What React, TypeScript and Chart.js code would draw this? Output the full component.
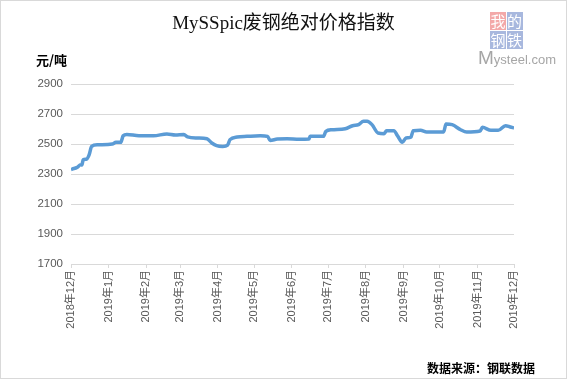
import React, { useEffect, useRef } from "react";
import { Chart, registerables } from "chart.js";

Chart.register(...registerables);

const dates = [
  "2018-12-01", "2018-12-02", "2018-12-06", "2018-12-09", "2018-12-10", "2018-12-11",
  "2018-12-14", "2018-12-16", "2018-12-18", "2018-12-23", "2019-01-04", "2019-01-07",
  "2019-01-11", "2019-01-13", "2019-01-16", "2019-01-26", "2019-02-07", "2019-02-18",
  "2019-02-25", "2019-03-04", "2019-03-07", "2019-03-15", "2019-03-23", "2019-03-27",
  "2019-03-31", "2019-04-05", "2019-04-09", "2019-04-11", "2019-04-17", "2019-04-25",
  "2019-05-06", "2019-05-12", "2019-05-14", "2019-05-20", "2019-05-28", "2019-06-07",
  "2019-06-15", "2019-06-16", "2019-06-27", "2019-06-29", "2019-07-04", "2019-07-15",
  "2019-07-21", "2019-07-26", "2019-07-30", "2019-08-02", "2019-08-06", "2019-08-11",
  "2019-08-16", "2019-08-18", "2019-08-24", "2019-08-27", "2019-08-31", "2019-09-03",
  "2019-09-07", "2019-09-09", "2019-09-15", "2019-09-20", "2019-10-04", "2019-10-06",
  "2019-10-11", "2019-10-18", "2019-10-23", "2019-11-03", "2019-11-05", "2019-11-12",
  "2019-11-18", "2019-11-24", "2019-11-28", "2019-12-01",
];

const values = [
  2330, 2333, 2344, 2362, 2360, 2395,
  2400, 2429, 2484, 2495, 2500, 2511,
  2511, 2555, 2564, 2555, 2555, 2567,
  2560, 2564, 2547, 2540, 2535, 2507,
  2489, 2484, 2493, 2529, 2547, 2551,
  2555, 2551, 2524, 2533, 2535, 2531,
  2533, 2551, 2551, 2584, 2595, 2602,
  2622, 2629, 2651, 2651, 2629, 2573,
  2569, 2589, 2589, 2555, 2511, 2540,
  2545, 2589, 2591, 2580, 2580, 2633,
  2629, 2595, 2580, 2587, 2611, 2591,
  2591, 2622, 2613, 2607,
];

const monthTickDates = [
  "2018-12-01", "2019-01-01", "2019-02-01", "2019-03-01", "2019-04-01", "2019-05-01",
  "2019-06-01", "2019-07-01", "2019-08-01", "2019-09-01", "2019-10-01", "2019-11-01",
  "2019-12-01",
];

const monthTickLabels = [
  "2018年12月", "2019年1月", "2019年2月", "2019年3月", "2019年4月", "2019年5月",
  "2019年6月", "2019年7月", "2019年8月", "2019年9月", "2019年10月", "2019年11月",
  "2019年12月",
];

const yMin = 1700;
const yMax = 2900;
const yStep = 200;

const ORIGIN = Date.UTC(2018, 11, 1);
function dayIndex(s: string): number {
  const [y, m, d] = s.split("-").map(Number);
  return (Date.UTC(y, m - 1, d) - ORIGIN) / 86400000;
}

const tickDays = monthTickDates.map(dayIndex);

export default function App() {
  const canvasRef = useRef<HTMLCanvasElement | null>(null);

  useEffect(() => {
    if (!canvasRef.current) return;
    const points = dates.map((d, i) => ({ x: dayIndex(d), y: values[i] }));
    const chart = new Chart(canvasRef.current, {
      type: "line",
      data: {
        datasets: [
          {
            data: points,
            borderColor: "#5B9BD5",
            borderWidth: 3.5,
            pointRadius: 0,
            fill: false,
            cubicInterpolationMode: "monotone",
          },
        ],
      },
      options: {
        responsive: false,
        animation: false,
        layout: { padding: { top: 84, right: 53, left: 0, bottom: 0 } },
        plugins: {
          legend: { display: false },
          tooltip: { enabled: false },
          title: { display: false },
        },
        scales: {
          x: {
            type: "linear",
            min: tickDays[0],
            max: tickDays[tickDays.length - 1],
            afterBuildTicks: (scale: any) => {
              scale.ticks = tickDays.map((v) => ({ value: v }));
            },
            afterFit: (scale: any) => {
              scale.height = 115;
            },
            ticks: {
              autoSkip: false,
              minRotation: 90,
              maxRotation: 90,
              padding: 2,
              color: "#595959",
              font: { size: 11, family: "'Liberation Sans', 'Noto Sans CJK SC', sans-serif" },
              callback: (v: any) => {
                const idx = tickDays.indexOf(Number(v));
                return idx >= 0 ? monthTickLabels[idx] : "";
              },
            },
            grid: {
              display: true,
              drawOnChartArea: false,
              drawTicks: true,
              tickLength: 4,
              color: "#d9d9d9",
            },
            border: { display: true, color: "#d9d9d9" },
          },
          y: {
            min: yMin,
            max: yMax,
            afterFit: (scale: any) => {
              scale.width = 71;
            },
            ticks: {
              stepSize: yStep,
              padding: 8,
              color: "#595959",
              font: { size: 11.5, family: "'Liberation Sans', Arial, sans-serif" },
              callback: (v: any) => String(v),
            },
            grid: { color: "#d9d9d9", drawTicks: false },
            border: { display: false },
          },
        },
      },
    } as any);
    return () => chart.destroy();
  }, []);

  const cjk = "'Noto Sans CJK SC', sans-serif";

  return (
    <div style={{ position: "absolute", left: 0, top: 0, width: 567, height: 379, background: "#fff" }}>
      <canvas ref={canvasRef} width={567} height={379} style={{ position: "absolute", left: 0, top: 0 }} />
      <div
        style={{
          position: "absolute",
          left: 0,
          top: 11,
          width: 567,
          textAlign: "center",
          fontFamily: "'Liberation Serif', 'Noto Sans CJK SC', serif",
          fontSize: 19,
          lineHeight: "24px",
          color: "#111",
        }}
      >
        MySSpic废钢绝对价格指数
      </div>
      <div
        style={{
          position: "absolute",
          left: 36,
          top: 51,
          fontFamily: cjk,
          fontWeight: "bold",
          fontSize: 13,
          lineHeight: "18px",
          color: "#000",
        }}
      >
        元/吨
      </div>
      <div
        style={{
          position: "absolute",
          left: 427,
          top: 360,
          fontFamily: cjk,
          fontWeight: "bold",
          fontSize: 12,
          lineHeight: "16px",
          color: "#000",
        }}
      >
        数据来源：钢联数据
      </div>
      {/* logo */}
      <div style={{ position: "absolute", left: 490, top: 12, width: 33, height: 38, fontFamily: cjk, fontSize: 15 }}>
        {[
          { t: "我", bg: "#f3a9a9", l: 0, tp: 0 },
          { t: "的", bg: "#a8b8de", l: 16.5, tp: 0 },
          { t: "钢", bg: "#a8b8de", l: 0, tp: 19 },
          { t: "铁", bg: "#a8b8de", l: 16.5, tp: 19 },
        ].map((c) => (
          <div
            key={c.t}
            style={{
              position: "absolute",
              left: c.l,
              top: c.tp,
              width: 16,
              height: 18,
              background: c.bg,
              color: "#fff",
              textAlign: "center",
              lineHeight: "18px",
            }}
          >
            {c.t}
          </div>
        ))}
      </div>
      <div
        style={{
          position: "absolute",
          left: 478,
          top: 48,
          fontFamily: "'Liberation Sans', Arial, sans-serif",
          color: "#a6a6a6",
          lineHeight: "20px",
          whiteSpace: "nowrap",
        }}
      >
        <span style={{ fontSize: 19 }}>M</span>
        <span style={{ fontSize: 13 }}>ysteel.com</span>
      </div>
      <div
        style={{
          position: "absolute",
          left: 0,
          top: 0,
          width: 567,
          height: 379,
          boxSizing: "border-box",
          border: "1px solid #d9d9d9",
          pointerEvents: "none",
        }}
      />
    </div>
  );
}
